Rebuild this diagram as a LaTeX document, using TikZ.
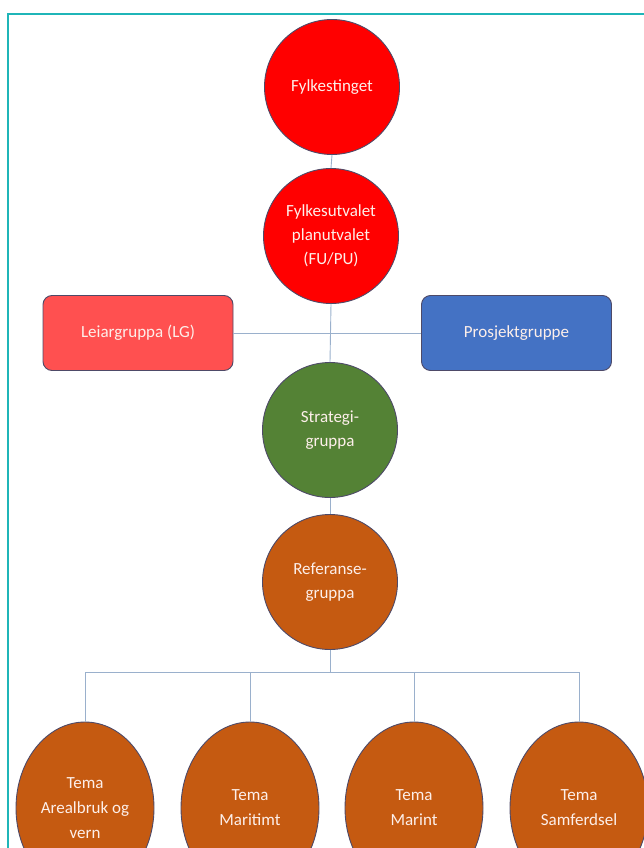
\documentclass[tikz,border=0pt]{standalone}
\usepackage{fontspec}
\setmainfont{Carlito}
\usetikzlibrary{shapes.geometric}
\definecolor{frameteal}{HTML}{1FB5B8}
\definecolor{conn}{HTML}{9AB0CC}
\definecolor{outl}{HTML}{4E4A68}
\definecolor{redfill}{HTML}{FF0000}
\definecolor{pinkfill}{HTML}{FF5050}
\definecolor{bluefill}{HTML}{4472C4}
\definecolor{greenfill}{HTML}{548235}
\definecolor{orangefill}{HTML}{C55A11}
\definecolor{lighttext}{HTML}{FDEFEA}
\tikzset{
  bubble/.style={circle, draw=outl, line width=0.9pt, minimum size=135pt, inner sep=0pt,
    text=lighttext, align=center, font=\fontsize{17}{24}\selectfont},
  temabubble/.style={ellipse, draw=outl, line width=0.9pt, minimum width=138pt, minimum height=172pt,
    inner sep=0pt, fill=orangefill, text=lighttext, align=center, font=\fontsize{17}{25}\selectfont},
  groupbox/.style={rectangle, rounded corners=9pt, draw=outl, line width=0.9pt, minimum width=190pt,
    minimum height=75pt, text=lighttext, font=\fontsize{17}{20}\selectfont},
  link/.style={draw=conn, line width=0.9pt}
}
\begin{document}
\begin{tikzpicture}[x=1pt,y=-1pt]
\useasboundingbox (0,0) rectangle (644,848);
\clip (0,0) rectangle (644,848);
\draw[frameteal, line width=2pt] (8,880) -- (8,14) -- (680,14);

\node[bubble, fill=redfill] (ting) at (332,87) {Fylkestinget};
\node[bubble, fill=redfill] (fu) at (331,236) {Fylkesutvalet\\planutvalet\\(FU/PU)};
\node[groupbox, fill=pinkfill] (lg) at (138,333) {Leiargruppa (LG)};
\node[groupbox, fill=bluefill] (pg) at (516.5,333) {Prosjektgruppe};
\node[bubble, fill=greenfill] (strat) at (330,430) {Strategi-\\gruppa};
\node[bubble, fill=orangefill] (ref) at (330,582) {Referanse-\\gruppa};
\coordinate (bus) at (330,672);
\node[temabubble] (t1) at (85,808) {Tema\\Arealbruk og\\vern};
\node[temabubble] (t2) at (250,808) {Tema\\Maritimt};
\node[temabubble] (t3) at (414,808) {Tema\\Marint};
\node[temabubble] (t4) at (579,808) {Tema\\Samferdsel};

\draw[link] (ting.south) -- (fu.north);
\draw[link] (fu.south) -- (strat.north);
\draw[link] (lg.east) -- (pg.west);
\draw[link] (strat.south) -- (ref.north);
\draw[link] (ref.south) -- (bus);
\draw[link] (t1.north) -- (t1.north |- bus) -- (t4.north |- bus) -- (t4.north);
\draw[link] (t2.north) -- (t2.north |- bus);
\draw[link] (t3.north) -- (t3.north |- bus);
\end{tikzpicture}
\end{document}
